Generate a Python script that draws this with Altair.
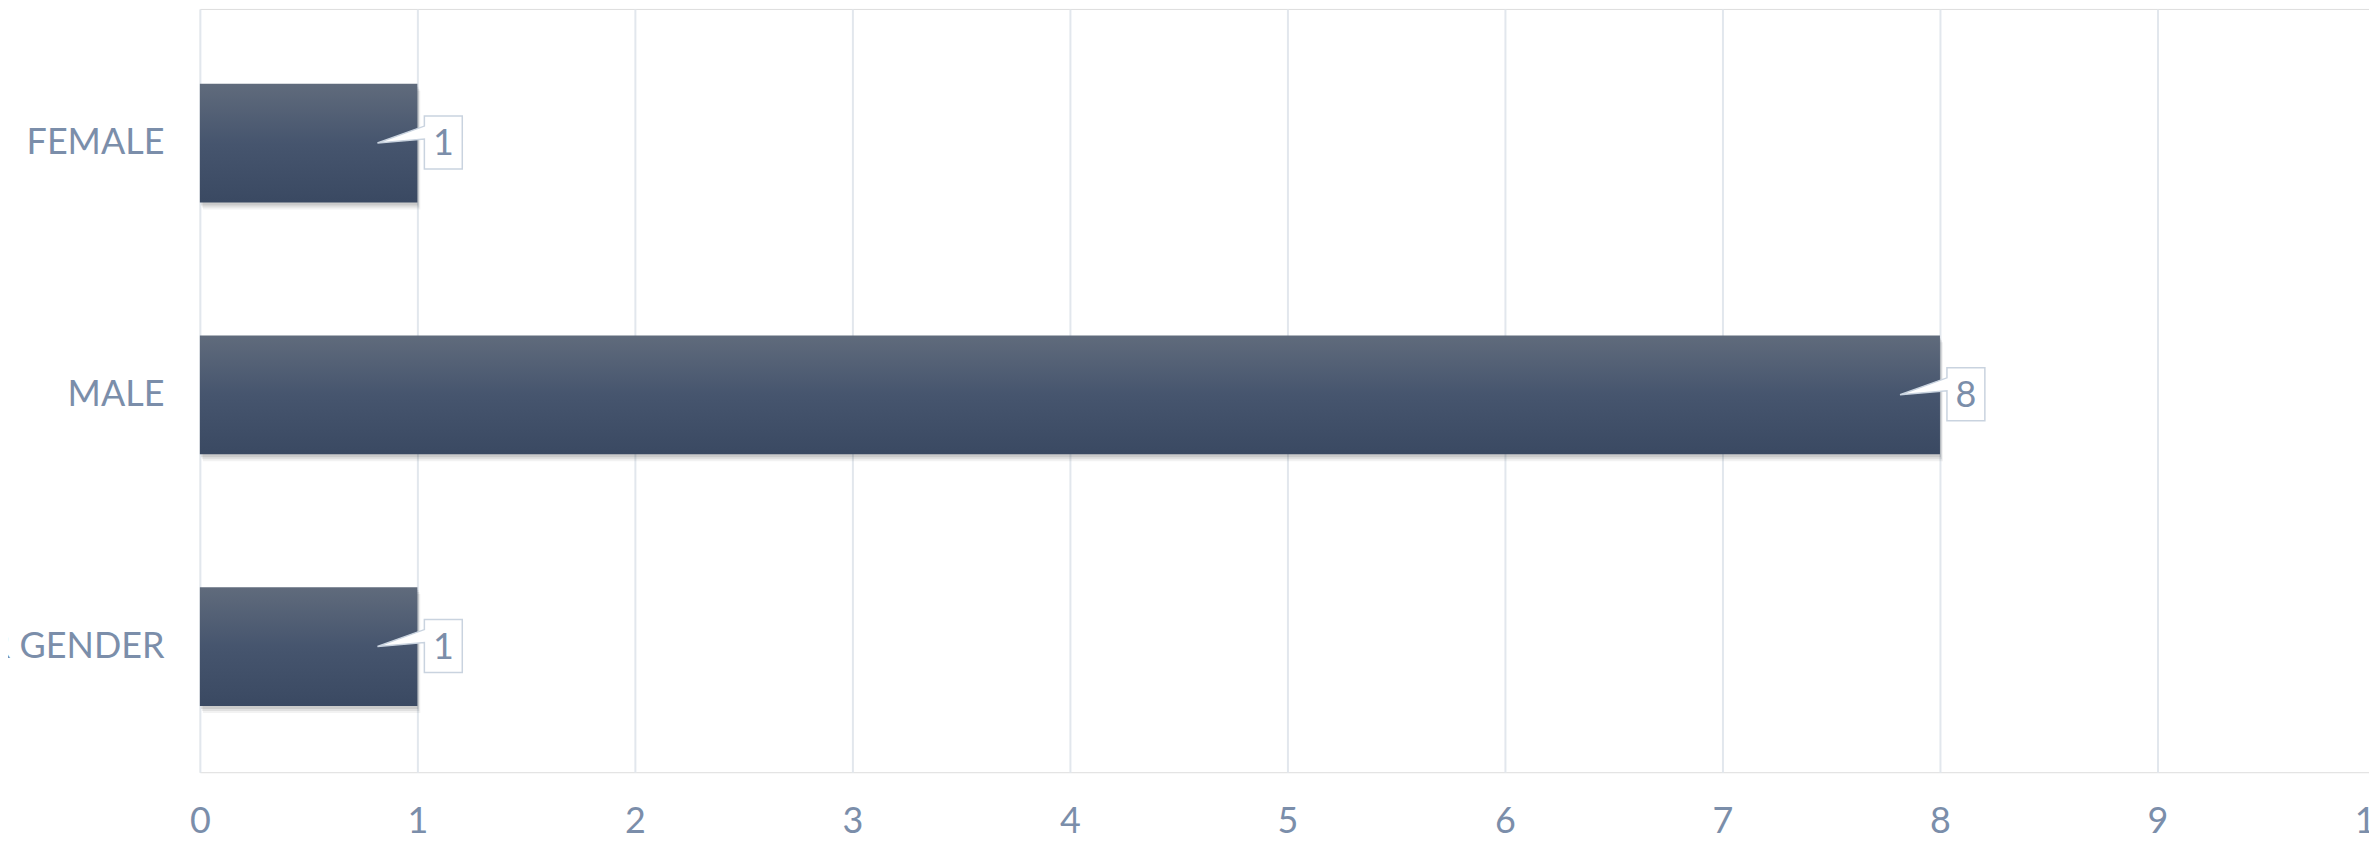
import altair as alt
import pandas as pd

categories = ["FEMALE", "MALE", "OTHER GENDER"]
counts = [1, 8, 1]
x_ticks = [0, 1, 2, 3, 4, 5, 6, 7, 8, 9, 10]

df = pd.DataFrame({"gender": categories, "count": counts})

FONT = "Lato"
LABEL_COLOR = "#7b8eaa"

y_enc = alt.Y(
    "gender:N",
    sort=categories,
    scale=alt.Scale(paddingInner=0.528, paddingOuter=0.28, align=0.53),
    axis=alt.Axis(
        title=None, ticks=False, tickSize=0, domain=False, labelFont=FONT,
        labelFontSize=36, labelColor=LABEL_COLOR, labelPadding=36, labelLimit=0,
    ),
)
x_enc = alt.X(
    "count:Q",
    scale=alt.Scale(domain=[0, 10], nice=False),
    axis=alt.Axis(
        title=None, values=x_ticks, ticks=False, tickSize=0, domain=False,
        grid=True, gridColor="#e2e7ed", gridWidth=2, labelFont=FONT,
        labelFontSize=36, labelColor=LABEL_COLOR, labelPadding=32,
        labelFlush=False, labelOverlap=False, format="d",
    ),
)

base = alt.Chart(df)

shadows = [
    base.mark_bar(color="#000000", opacity=op, yOffset=yo, xOffset=xo).encode(x=x_enc, y=y_enc)
    for op, yo, xo in [(0.05, 7, 3), (0.07, 5, 2), (0.09, 3, 1)]
]

gradient = alt.Gradient(
    gradient="linear",
    stops=[
        alt.GradientStop(color="#606b7c", offset=0),
        alt.GradientStop(color="#46556e", offset=0.5),
        alt.GradientStop(color="#3a4962", offset=1),
    ],
    x1=0, x2=0, y1=0, y2=1,
)
bars = base.mark_bar(color=gradient).encode(x=x_enc, y=y_enc)

callout_path = "M -0.8 0 L 0.14 -0.34 L 0.14 -0.54 L 0.9 -0.54 L 0.9 0.52 L 0.14 0.52 L 0.14 -0.08 Z"
callouts = base.mark_point(
    shape=callout_path, size=10000, filled=True, fill="#ffffff",
    stroke="#c9d3df", strokeWidth=1.5, opacity=1,
).encode(x=x_enc, y=y_enc)

texts = base.mark_text(
    font=FONT, fontSize=36, color=LABEL_COLOR, align="center",
    baseline="middle", dx=26, dy=1,
).encode(x=x_enc, y=y_enc, text="count:Q")

chart = alt.layer(*shadows, bars, callouts, texts).properties(
    width=2180,
    height=765,
    autosize=alt.AutoSizeParams(type="none"),
    padding={"left": 192.3, "top": 0, "right": -6, "bottom": 61},
).configure_view(strokeWidth=0).configure(background="#ffffff")

chart.save("out.html", embed_options={"renderer": "svg", "actions": False})
